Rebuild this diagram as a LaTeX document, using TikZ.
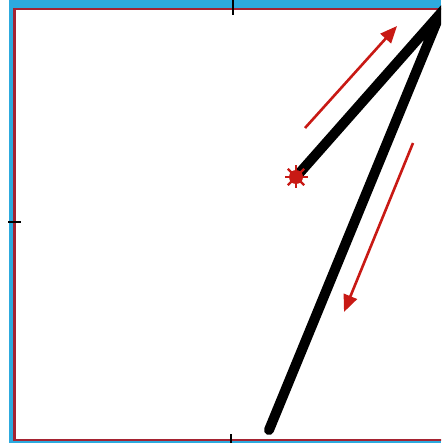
\documentclass[tikz,border=0pt]{standalone}
\usetikzlibrary{arrows.meta}
\definecolor{bandblue}{RGB}{45,170,222}
\definecolor{frame}{RGB}{165,35,50}
\definecolor{arrowred}{RGB}{200,25,20}
\tikzset{
  rod/.style={line width=10pt, black, line cap=round, line join=miter},
  motion/.style={draw=arrowred, line width=2.6pt, -{Triangle[length=17pt,width=14pt]}},
  tick/.style={line width=2pt, black},
}
\begin{document}
\begin{tikzpicture}[x=1pt,y=-1pt]
\useasboundingbox (0,0) rectangle (441,443);
\clip (0,0) rectangle (441,443);
\fill[white] (0,0) rectangle (441,443);
% blue band
\fill[bandblue] (9,0) rectangle (441,443);
\fill[white] (14,9) rectangle (445,440);
% red frame
\draw[frame, line width=2.5pt] (445,9) -- (14.5,9) -- (14.5,440) -- (445,440);
% ticks
\draw[tick] (233,0) -- (233,15);
\draw[tick] (8,222) -- (21,222);
\draw[tick] (231,434) -- (231,443);
% rods
\coordinate (apex) at (440,14);
\coordinate (foot) at (269,430);
\node[inner sep=0pt, minimum size=0pt] (star) at (296,177) {};
\draw[rod] (star.center) -- (apex) -- (foot);
% star burst
\fill[arrowred] (star.center) circle (7pt);
\foreach \a in {0,45,...,315}
  \draw[arrowred, line width=2.4pt] (star.center) -- ++(\a:11.5);
% motion arrows
\coordinate (a1s) at (305,128);
\coordinate (a1e) at (397,26);
\coordinate (a2s) at (413,143);
\coordinate (a2e) at (344,312);
\draw[motion] (a1s) -- (a1e);
\draw[motion] (a2s) -- (a2e);
\end{tikzpicture}
\end{document}
